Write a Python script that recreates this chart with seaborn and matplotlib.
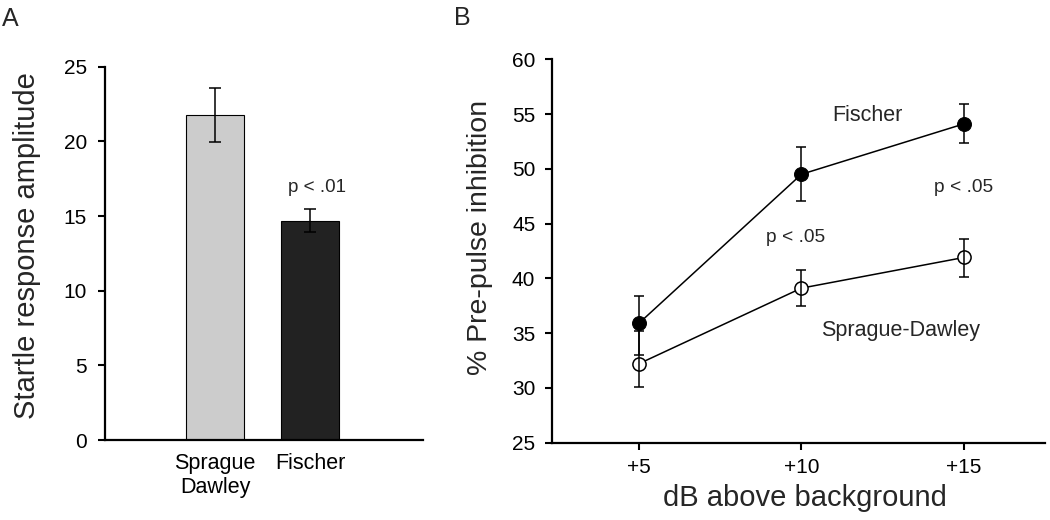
import numpy as np
import pandas as pd
import seaborn as sns
import matplotlib
matplotlib.use('Agg')
import matplotlib.pyplot as plt

# dados do painel A
strains = ['Sprague\nDawley', 'Fischer']
startle = [21.75, 14.7]
startle_err = [1.8, 0.75]
bar_colors = ['#cccccc', '#222222']

# dados do painel B
db_levels = [5, 10, 15]
db_labels = ['+5', '+10', '+15']
ppi_fischer = [35.9, 49.5, 54.1]
ppi_fischer_lo = [2.9, 2.45, 1.7]
ppi_fischer_hi = [2.5, 2.5, 1.8]
ppi_sd = [32.2, 39.1, 41.9]
ppi_sd_lo = [2.1, 1.6, 1.8]
ppi_sd_hi = [2.95, 1.7, 1.7]

sns.set_style('ticks')
plt.rcParams['font.family'] = ['Liberation Sans', 'DejaVu Sans']

fig = plt.figure(figsize=(10.5, 5.2), dpi=100)
axA = fig.add_axes([0.1, 0.1538, 0.3029, 0.7179])
axB = fig.add_axes([0.5257, 0.149, 0.4695, 0.7369])

# painel A - barras
dfA = pd.DataFrame({'strain': strains, 'amp': startle})
sns.barplot(data=dfA, x='strain', y='amp', hue='strain', palette=bar_colors,
            legend=False, width=0.607, edgecolor='black', linewidth=0.8, ax=axA)
axA.errorbar(range(len(strains)), startle, yerr=startle_err, fmt='none',
             ecolor='black', elinewidth=1.1, capsize=4, capthick=1.1)
axA.set_ylim(0, 25)
axA.set_xlim(-1.152, 2.18)
axA.set_yticks([0, 5, 10, 15, 20, 25])
axA.set_xlabel('')
axA.set_ylabel('Startle response amplitude', fontsize=21)
axA.yaxis.set_label_coords(-0.2, 0.521)
axA.tick_params(axis='y', labelsize=15, length=5, width=1.5, pad=8)
axA.tick_params(axis='x', labelsize=15.5, length=0, pad=9)
axA.text(1.07, 16.9, 'p < .01', ha='center', va='center', fontsize=13.6)

# painel B - linhas
sns.lineplot(x=db_levels, y=ppi_fischer, color='black', linewidth=1.1,
             marker='o', markersize=10, markerfacecolor='black',
             markeredgecolor='black', ax=axB, zorder=3)
sns.lineplot(x=db_levels, y=ppi_sd, color='black', linewidth=1.1,
             marker='o', markersize=9.5, markerfacecolor='white',
             markeredgecolor='black', markeredgewidth=1.1, ax=axB, zorder=3)
axB.errorbar(db_levels, ppi_fischer, yerr=[ppi_fischer_lo, ppi_fischer_hi],
             fmt='none', ecolor='black', elinewidth=1.1, capsize=3.7,
             capthick=1.1, zorder=4)
axB.errorbar(db_levels, ppi_sd, yerr=[ppi_sd_lo, ppi_sd_hi],
             fmt='none', ecolor='black', elinewidth=1.1, capsize=3.7,
             capthick=1.1, zorder=4)
axB.set_ylim(25, 60)
axB.set_xlim(2.32, 17.5)
axB.set_xticks(db_levels)
axB.set_xticklabels(db_labels)
axB.set_yticks(range(25, 61, 5))
axB.set_xlabel('dB above background', fontsize=21)
axB.set_ylabel('% Pre-pulse inhibition', fontsize=20.5)
axB.yaxis.set_label_coords(-0.12, 0.535)
axB.xaxis.set_label_coords(0.513, -0.108)
axB.xaxis.label.set_va('top')
axB.tick_params(axis='both', labelsize=15, length=5, width=1.5, pad=7)
axB.tick_params(axis='x', pad=6)
axB.text(12.03, 54.9, 'Fischer', ha='center', va='center', fontsize=15.5)
axB.text(15.0, 48.3, 'p < .05', ha='center', va='center', fontsize=13.8)
axB.text(9.83, 43.7, 'p < .05', ha='center', va='center', fontsize=13.8)
axB.text(13.05, 35.2, 'Sprague-Dawley', ha='center', va='center', fontsize=15.5)

for ax in (axA, axB):
    sns.despine(ax=ax)
    for s in ('left', 'bottom'):
        ax.spines[s].set_linewidth(1.6)
        ax.spines[s].set_color('black')
    ax.tick_params(colors='black')

fig.text(10 / 1050, 1 - 19 / 520, 'A', fontsize=18, ha='center', va='center')
fig.text(462 / 1050, 1 - 18 / 520, 'B', fontsize=18, ha='center', va='center')

fig.savefig('out.png', dpi=100)
